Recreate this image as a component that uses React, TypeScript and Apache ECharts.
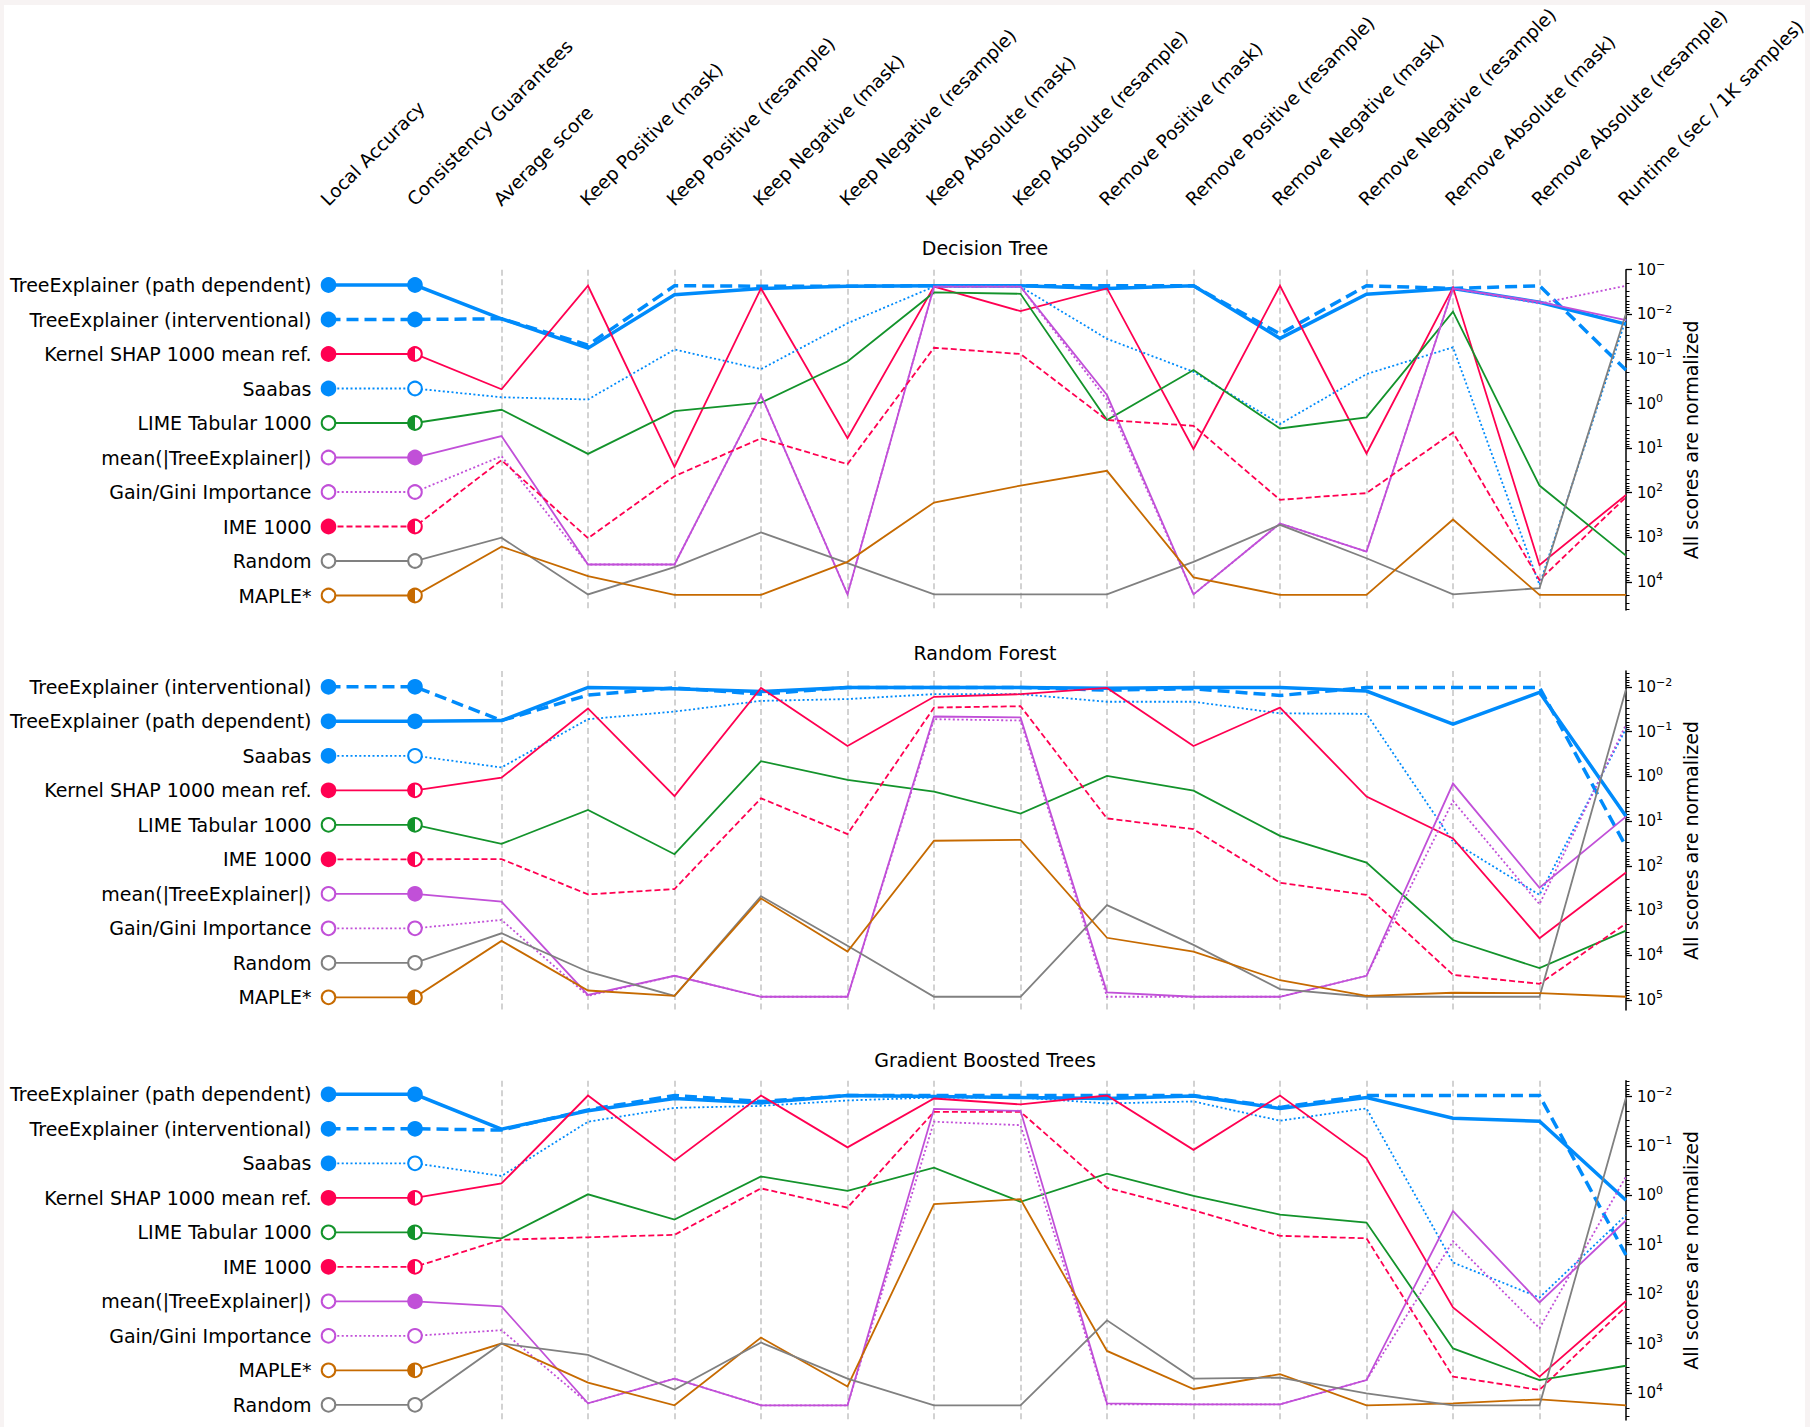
import React, { useEffect, useRef } from "react";
import * as echarts from "echarts";

// ---------- categories ----------
const COLUMNS = [
  "Local Accuracy",
  "Consistency Guarantees",
  "Average score",
  "Keep Positive (mask)",
  "Keep Positive (resample)",
  "Keep Negative (mask)",
  "Keep Negative (resample)",
  "Keep Absolute (mask)",
  "Keep Absolute (resample)",
  "Remove Positive (mask)",
  "Remove Positive (resample)",
  "Remove Negative (mask)",
  "Remove Negative (resample)",
  "Remove Absolute (mask)",
  "Remove Absolute (resample)",
  "Runtime (sec / 1K samples)",
];

const METHOD_NAMES = [
  "TreeExplainer (path dependent)",
  "TreeExplainer (interventional)",
  "Kernel SHAP 1000 mean ref.",
  "Saabas",
  "LIME Tabular 1000",
  "mean(|TreeExplainer|)",
  "Gain/Gini Importance",
  "IME 1000",
  "Random",
  "MAPLE*",
];
// marker kinds: 0 filled, 1 open, 2 half (left filled)
const MARKER_LOCAL = [0, 0, 0, 0, 1, 1, 1, 0, 1, 1];
const MARKER_CONSIST = [0, 0, 2, 1, 2, 0, 1, 2, 1, 2];

const AXIS_TITLE = "All scores are normalized";
const TICK_BASE = "10";

// ---------- Decision Tree (log10 of normalized score, columns Average score .. Runtime) ----------
const DT_TITLE = "Decision Tree";
const DT_ORDER = [0, 1, 2, 3, 4, 5, 6, 7, 8, 9];
const DT_TE_PATH = [-1.9, -1.24, -2.44, -2.58, -2.63, -2.64, -2.64, -2.58, -2.64, -1.46, -2.45, -2.58, -2.27, -1.78];
const DT_TE_INT = [-1.9, -1.31, -2.64, -2.63, -2.63, -2.64, -2.64, -2.64, -2.64, -1.56, -2.64, -2.58, -2.64, -0.75];
const DT_KERNEL = [-0.32, -2.64, 1.42, -2.58, 0.78, -2.62, -2.07, -2.58, 1.02, -2.64, 1.12, -2.6, 3.62, 2.05];
const DT_SAABAS = [-0.14, -0.09, -1.21, -0.77, -1.8, -2.62, -2.62, -1.45, -0.71, 0.46, -0.66, -1.26, 4.07, -1.9];
const DT_LIME = [0.14, 1.13, 0.17, -0.02, -0.94, -2.49, -2.46, 0.37, -0.75, 0.56, 0.31, -2.06, 1.84, 3.41];
const DT_MEAN_TE = [0.73, 3.61, 3.61, -0.19, 4.28, -2.62, -2.62, -0.19, 4.28, 2.69, 3.32, -2.58, -2.28, -1.87];
const DT_GAIN = [1.18, 3.61, 3.61, -0.19, 4.28, -2.62, -2.62, -0.08, 4.28, 2.69, 3.32, -2.58, -2.24, -2.64];
const DT_IME = [1.27, 3.02, 1.63, 0.78, 1.36, -1.25, -1.11, 0.37, 0.5, 2.16, 2.01, 0.65, 3.96, 2.1];
const DT_RANDOM = [3.01, 4.28, 3.67, 2.89, 3.58, 4.28, 4.28, 4.28, 3.55, 2.72, 3.47, 4.28, 4.14, -2.02];
const DT_MAPLE = [3.21, 3.87, 4.29, 4.29, 3.55, 2.22, 1.84, 1.51, 3.9, 4.29, 4.29, 2.6, 4.29, 4.29];
const DT_TICKS = [-3, -2, -1, 0, 1, 2, 3, 4];
const DT_TICK_EXPONENTS = ["−", "−2", "−1", "0", "1", "2", "3", "4"];

// ---------- Random Forest ----------
const RF_TITLE = "Random Forest";
const RF_ORDER = [1, 0, 3, 2, 4, 7, 5, 6, 8, 9];
const RF_TE_PATH = [-1.25, -1.99, -1.96, -1.9, -1.99, -1.99, -1.99, -1.97, -1.99, -1.99, -1.91, -1.17, -1.88, 0.89];
const RF_TE_INT = [-1.25, -1.82, -1.98, -1.84, -1.99, -1.99, -1.99, -1.93, -1.96, -1.81, -1.99, -1.99, -1.99, 1.57];
const RF_KERNEL = [0.03, -1.52, 0.44, -1.98, -0.68, -1.78, -1.84, -1.98, -0.68, -1.54, 0.45, 1.39, 3.62, 2.15];
const RF_SAABAS = [-0.2, -1.28, -1.45, -1.69, -1.73, -1.84, -1.84, -1.67, -1.67, -1.41, -1.4, 1.46, 2.65, -1.07];
const RF_LIME = [1.51, 0.75, 1.74, -0.34, 0.08, 0.34, 0.83, -0.01, 0.32, 1.33, 1.93, 3.66, 4.29, 3.45];
const RF_MEAN_TE = [2.8, 4.89, 4.46, 4.93, 4.93, -1.34, -1.32, 4.83, 4.93, 4.93, 4.46, 0.16, 2.49, 0.9];
const RF_GAIN = [3.21, 4.91, 4.46, 4.93, 4.93, -1.28, -1.25, 4.93, 4.93, 4.93, 4.46, 0.55, 2.86, -1.16];
const RF_IME = [1.85, 2.64, 2.52, 0.49, 1.29, -1.54, -1.57, 0.94, 1.18, 2.38, 2.65, 4.44, 4.64, 3.29];
const RF_RANDOM = [3.51, 4.37, 4.91, 2.68, 3.79, 4.93, 4.93, 2.88, 3.77, 4.76, 4.93, 4.93, 4.93, -1.95];
const RF_MAPLE = [3.68, 4.79, 4.91, 2.73, 3.92, 1.44, 1.42, 3.61, 3.92, 4.56, 4.91, 4.84, 4.85, 4.93];
const RF_TICKS = [-2, -1, 0, 1, 2, 3, 4, 5];
const RF_TICK_EXPONENTS = ["−2", "−1", "0", "1", "2", "3", "4", "5"];

// ---------- Gradient Boosted Trees ----------
const GBT_TITLE = "Gradient Boosted Trees";
const GBT_ORDER = [0, 1, 3, 2, 4, 7, 5, 6, 9, 8];
const GBT_TE_PATH = [-1.34, -1.71, -1.96, -1.87, -2.02, -2.0, -1.98, -1.96, -2.01, -1.76, -1.98, -1.56, -1.5, 0.1];
const GBT_TE_INT = [-1.32, -1.73, -2.02, -1.9, -2.02, -2.02, -2.02, -2.02, -2.02, -1.78, -2.02, -2.02, -2.02, 1.21];
const GBT_KERNEL = [-0.24, -2.02, -0.7, -2.02, -0.97, -1.96, -1.84, -2.02, -0.92, -2.02, -0.75, 2.27, 3.67, 2.14];
const GBT_SAABAS = [-0.39, -1.49, -1.77, -1.81, -1.92, -1.98, -1.98, -1.86, -1.9, -1.51, -1.76, 1.36, 2.07, 0.4];
const GBT_LIME = [0.87, -0.02, 0.49, -0.38, -0.09, -0.56, 0.13, -0.44, 0.01, 0.39, 0.55, 3.1, 3.74, 3.45];
const GBT_MEAN_TE = [2.25, 4.21, 3.71, 4.25, 4.25, -1.75, -1.71, 4.21, 4.23, 4.23, 3.74, 0.32, 2.17, 0.51];
const GBT_GAIN = [2.73, 4.21, 3.71, 4.25, 4.25, -1.49, -1.42, 4.23, 4.23, 4.23, 3.74, 0.93, 2.69, -0.38];
const GBT_IME = [0.9, 0.85, 0.8, -0.14, 0.25, -1.69, -1.69, -0.15, 0.3, 0.82, 0.87, 3.67, 3.94, 2.25];
const GBT_RANDOM = [3.0, 3.23, 3.93, 2.98, 3.71, 4.25, 4.25, 2.53, 3.71, 3.69, 4.01, 4.25, 4.25, -1.98];
const GBT_MAPLE = [3.0, 3.79, 4.25, 2.88, 3.87, 0.18, 0.08, 3.15, 3.92, 3.62, 4.25, 4.21, 4.13, 4.25];
const GBT_TICKS = [-2, -1, 0, 1, 2, 3, 4];
const GBT_TICK_EXPONENTS = ["−2", "−1", "0", "1", "2", "3", "4"];

// ---------- styles ----------
const BLUE = "#008bfb";
const RED = "#ff0051";
const GREEN = "#13932b";
const PURPLE = "#c150d8";
const GREY = "#808080";
const ORANGE = "#c66a00";
const METHOD_COLORS = [BLUE, BLUE, RED, BLUE, GREEN, PURPLE, PURPLE, RED, GREY, ORANGE];
const METHOD_WIDTHS = [3.5, 3.5, 1.8, 1.8, 1.8, 1.8, 1.8, 1.8, 1.8, 1.8];
const METHOD_TYPES: any[] = ["solid", [12, 6], "solid", [2, 2.4], "solid", "solid", [2, 2.4], [6, 3], "solid", "solid"];

const FONT = '"DejaVu Sans", "Liberation Sans", sans-serif';
const GRID_LEFT = 328.5;
const GRID_W = 1297.5;
const ROW_STEP = 34.5;

const PANELS = [
  {
    title: DT_TITLE, order: DT_ORDER,
    values: [DT_TE_PATH, DT_TE_INT, DT_KERNEL, DT_SAABAS, DT_LIME, DT_MEAN_TE, DT_GAIN, DT_IME, DT_RANDOM, DT_MAPLE],
    ticks: DT_TICKS, tickExps: DT_TICK_EXPONENTS,
    top: 269.7, height: 340.3, min: -3, max: 4.63, rowOffset: 15.3, titleY: 248,
  },
  {
    title: RF_TITLE, order: RF_ORDER,
    values: [RF_TE_PATH, RF_TE_INT, RF_KERNEL, RF_SAABAS, RF_LIME, RF_MEAN_TE, RF_GAIN, RF_IME, RF_RANDOM, RF_MAPLE],
    ticks: RF_TICKS, tickExps: RF_TICK_EXPONENTS,
    top: 671, height: 339, min: -2.358, max: 5.226, rowOffset: 15.8, titleY: 653,
  },
  {
    title: GBT_TITLE, order: GBT_ORDER,
    values: [GBT_TE_PATH, GBT_TE_INT, GBT_KERNEL, GBT_SAABAS, GBT_LIME, GBT_MEAN_TE, GBT_GAIN, GBT_IME, GBT_RANDOM, GBT_MAPLE],
    ticks: GBT_TICKS, tickExps: GBT_TICK_EXPONENTS,
    top: 1080.7, height: 339.3, min: -2.32, max: 4.548, rowOffset: 13.6, titleY: 1060,
  },
];

function rowValue(p: any, r: number) {
  return p.min + ((p.rowOffset + r * ROW_STEP) / p.height) * (p.max - p.min);
}

function minorTicks(p: any) {
  const out: number[] = [];
  for (let n = Math.floor(p.min) - 1; n <= Math.ceil(p.max); n++) {
    for (let k = 2; k <= 9; k++) {
      const v = n + Math.log10(k);
      if (v > p.min && v < p.max) out.push(v);
    }
  }
  return out;
}

function buildOption() {
  const grid: any[] = [];
  const xAxis: any[] = [];
  const yAxis: any[] = [];
  const series: any[] = [];
  const graphic: any[] = [];

  // thin page border (drawn first, below texts)
  graphic.push({ type: "rect", z: -1, shape: { x: 0, y: 0, width: 1810, height: 5 }, style: { fill: "#f7f3f3" }, silent: true });
  graphic.push({ type: "rect", z: -1, shape: { x: 0, y: 0, width: 4, height: 1427 }, style: { fill: "#f7f3f3" }, silent: true });
  graphic.push({ type: "rect", z: -1, shape: { x: 1805, y: 0, width: 5, height: 1427 }, style: { fill: "#f7f3f3" }, silent: true });

  PANELS.forEach((p, i) => {
    grid.push({ left: GRID_LEFT, width: GRID_W, top: p.top, height: p.height, containLabel: false });
    xAxis.push({
      type: "category",
      gridIndex: i,
      data: COLUMNS,
      boundaryGap: false,
      axisLine: { show: false },
      axisTick: { show: false },
      axisLabel: { show: false },
      splitLine: {
        show: true,
        interval: (idx: number) => idx >= 2 && idx <= 14,
        lineStyle: { color: "#c4c4c4", width: 1.5, type: [6, 3.5] },
      },
    });
    yAxis.push({
      type: "value",
      gridIndex: i,
      position: "right",
      inverse: true,
      min: p.min,
      max: p.max,
      axisLine: { show: true, lineStyle: { color: "#000", width: 1.5 } },
      axisTick: { show: true, customValues: p.ticks, length: 6, lineStyle: { color: "#000", width: 1.3 } },
      axisLabel: {
        show: true,
        customValues: p.ticks,
        formatter: (v: number) => {
          const k = p.ticks.indexOf(Math.round(v));
          return k >= 0 ? `{b|${TICK_BASE}}{s|${p.tickExps[k]}}` : "";
        },
        color: "#000",
        fontFamily: FONT,
        margin: 11,
        rich: {
          b: { fontSize: 15, fontFamily: FONT, color: "#000" },
          s: { fontSize: 11, fontFamily: FONT, color: "#000", padding: [0, 0, 10, 0] },
        },
      },
      splitLine: { show: false },
    });
    yAxis.push({
      type: "value",
      gridIndex: i,
      position: "right",
      inverse: true,
      min: p.min,
      max: p.max,
      axisLine: { show: false },
      axisTick: { show: true, customValues: minorTicks(p), length: 3.5, lineStyle: { color: "#000", width: 1 } },
      axisLabel: { show: false },
      splitLine: { show: false },
    });

    const markerData: any[] = [];
    p.order.forEach((m: number, r: number) => {
      const rv = rowValue(p, r);
      series.push({
        type: "line",
        xAxisIndex: i,
        yAxisIndex: 2 * i,
        data: [rv, rv, ...p.values[m]],
        showSymbol: false,
        symbol: "none",
        clip: false,
        silent: true,
        z: 2,
        lineStyle: { color: METHOD_COLORS[m], width: METHOD_WIDTHS[m], type: METHOD_TYPES[m], cap: "butt", join: "miter" },
      });
      markerData.push([0, rv, MARKER_LOCAL[m], m]);
      markerData.push([1, rv, MARKER_CONSIST[m], m]);
    });

    series.push({
      type: "custom",
      xAxisIndex: i,
      yAxisIndex: 2 * i,
      data: markerData,
      clip: false,
      silent: true,
      z: 5,
      renderItem: (params: any, api: any) => {
        const col = api.value(0);
        const yv = api.value(1);
        const kind = api.value(2);
        const m = api.value(3);
        const pt = api.coord([col, yv]);
        const cx = pt[0];
        const cy = pt[1];
        const color = METHOD_COLORS[m];
        const r = 6.8;
        const children: any[] = [
          {
            type: "circle",
            shape: { cx, cy, r },
            style: { fill: kind === 0 ? color : "#ffffff", stroke: color, lineWidth: 2 },
          },
        ];
        if (kind === 2) {
          children.push({
            type: "sector",
            shape: { cx, cy, r0: 0, r: r + 0.5, startAngle: Math.PI / 2, endAngle: (Math.PI * 3) / 2, clockwise: true },
            style: { fill: color },
          });
        }
        if (col === 0) {
          children.push({
            type: "text",
            style: {
              text: METHOD_NAMES[m],
              x: cx - 17,
              y: cy,
              align: "right",
              textAlign: "right",
              verticalAlign: "middle",
              textVerticalAlign: "middle",
              font: `19px ${FONT}`,
              fill: "#000",
            },
          });
        }
        return { type: "group", children };
      },
    });

    graphic.push({
      type: "text",
      x: 985,
      y: p.titleY,
      style: { text: p.title, font: `19px ${FONT}`, fill: "#000", align: "center", textAlign: "center", verticalAlign: "middle", textVerticalAlign: "middle" },
    });
    graphic.push({
      type: "text",
      x: 1691,
      y: p.top + p.height / 2,
      rotation: Math.PI / 2,
      style: { text: AXIS_TITLE, font: `19px ${FONT}`, fill: "#000", align: "center", textAlign: "center", verticalAlign: "middle", textVerticalAlign: "middle" },
    });
  });

  const step = GRID_W / (COLUMNS.length - 1);
  COLUMNS.forEach((c, i) => {
    graphic.push({
      type: "text",
      x: GRID_LEFT + i * step + 2,
      y: 209,
      rotation: Math.PI / 4,
      style: { text: c, font: `18.5px ${FONT}`, fill: "#000", align: "left", textAlign: "left", verticalAlign: "bottom", textVerticalAlign: "bottom" },
    });
  });

  return {
    animation: false,
    backgroundColor: "#ffffff",
    textStyle: { fontFamily: FONT },
    grid,
    xAxis,
    yAxis,
    series,
    graphic,
  };
}

export default function App() {
  const ref = useRef<HTMLDivElement>(null);
  useEffect(() => {
    if (!ref.current) return;
    const chart = echarts.init(ref.current, undefined, { renderer: "svg" });
    chart.setOption(buildOption() as any);
    return () => chart.dispose();
  }, []);
  return (
    <div
      ref={ref}
      style={{ position: "absolute", left: 0, top: 0, width: 1810, height: 1427, background: "#fff" }}
    />
  );
}
